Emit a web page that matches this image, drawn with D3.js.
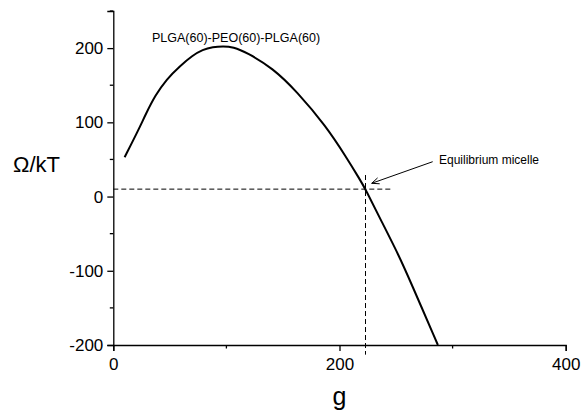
<!DOCTYPE html>
<html>
<head>
<meta charset="utf-8">
<script src="https://cdn.jsdelivr.net/npm/d3@7"></script>
<style>
  body { margin: 0; background: #fff; }
  svg text { font-family: "Liberation Sans", Arial, sans-serif; fill: #000; }
</style>
</head>
<body>
<svg id="chart" width="581" height="415"></svg>
<script>
// Curve data
const gValues = [10, 22, 29, 37, 47, 59, 70, 79, 88, 97, 106, 118, 141, 162, 188, 206, 218, 223, 238, 253, 262, 287];
const omegaValues = [53, 89, 112, 136, 158, 176, 190, 198, 201.5, 202.5, 201.5, 194, 173, 142, 95, 53, 23, 10, -36, -81, -112, -200];

const xTicks = [0, 200, 400];
const xMinor = [100, 300];
const yTicks = [-200, -100, 0, 100, 200];
const yMinor = [-150, -50, 50, 150, 250];

const eqPoint = { g: 223, omega: 10 };
const seriesName = "PLGA(60)-PEO(60)-PLGA(60)";

const svg = d3.select("#chart");

// Scales
const x = d3.scaleLinear().domain([0, 400]).range([113.3, 565.7]);
const y = d3.scaleLinear().domain([-200, 250]).range([345, 11]);

// Dashed guide lines
svg.append("line")
    .attr("x1", x(0)).attr("x2", x(247))
    .attr("y1", y(eqPoint.omega)).attr("y2", y(eqPoint.omega))
    .attr("stroke", "#000").attr("stroke-width", 1)
    .attr("stroke-dasharray", "5,3");
svg.append("line")
    .attr("x1", x(eqPoint.g)).attr("x2", x(eqPoint.g))
    .attr("y1", y(29)).attr("y2", y(-213))
    .attr("stroke", "#000").attr("stroke-width", 1)
    .attr("stroke-dasharray", "5,3");

// Axes (plain hyphen for negatives, like the original)
const fmt = d => String(d);

const xAxis = svg.append("g").attr("transform", `translate(0,${y(-200)})`);
xAxis.call(d3.axisBottom(x).tickValues(xTicks).tickSize(6).tickPadding(7).tickFormat(fmt));
xAxis.selectAll(".minor").data(xMinor).enter().append("line")
    .attr("class", "minor")
    .attr("x1", d => x(d)).attr("x2", d => x(d))
    .attr("y1", 0).attr("y2", 3.5)
    .attr("stroke", "#000").attr("stroke-width", 1.3);

const yAxis = svg.append("g").attr("transform", `translate(${x(0)},0)`);
yAxis.call(d3.axisLeft(y).tickValues(yTicks).tickSize(6).tickPadding(4).tickFormat(fmt));
yAxis.selectAll(".minor").data(yMinor).enter().append("line")
    .attr("class", "minor")
    .attr("x1", 0).attr("x2", -3.5)
    .attr("y1", d => y(d)).attr("y2", d => y(d))
    .attr("stroke", "#000").attr("stroke-width", 1.3);

svg.selectAll(".domain").attr("stroke", "#000").attr("stroke-width", 1.3);
svg.selectAll(".tick line").attr("stroke", "#000").attr("stroke-width", 1.3);
svg.selectAll(".tick text")
    .style("font-family", "'Liberation Sans', Arial, sans-serif")
    .style("font-size", "17px");

// Curve
const points = gValues.map((g, i) => [g, omegaValues[i]]);
const line = d3.line()
    .x(d => x(d[0]))
    .y(d => y(d[1]))
    .curve(d3.curveBasis);

svg.append("path")
    .datum(points)
    .attr("d", line)
    .attr("fill", "none")
    .attr("stroke", "#000")
    .attr("stroke-width", 2);

// Labels
svg.append("text")
    .attr("x", 152).attr("y", 42)
    .style("font-size", "12.5px")
    .text(seriesName);

svg.append("text")
    .attr("x", 13).attr("y", 172)
    .style("font-size", "22px")
    .text("Ω/kT");

svg.append("text")
    .attr("x", x(200)).attr("y", 405)
    .attr("text-anchor", "middle")
    .style("font-size", "25px")
    .text("g");

// Annotation with arrow
svg.append("text")
    .attr("x", 439).attr("y", 164)
    .style("font-size", "12px")
    .text("Equilibrium micelle");

const ax1 = 432.7, ay1 = 161.7, ax2 = 371.7, ay2 = 183.3;
svg.append("line")
    .attr("x1", ax1).attr("y1", ay1).attr("x2", ax2).attr("y2", ay2)
    .attr("stroke", "#000").attr("stroke-width", 1);
const ang = Math.atan2(ay1 - ay2, ax1 - ax2);
[0.4, -0.4].forEach(da => {
    svg.append("line")
        .attr("x1", ax2).attr("y1", ay2)
        .attr("x2", ax2 + 8 * Math.cos(ang + da))
        .attr("y2", ay2 + 8 * Math.sin(ang + da))
        .attr("stroke", "#000").attr("stroke-width", 1);
});
</script>
</body>
</html>
